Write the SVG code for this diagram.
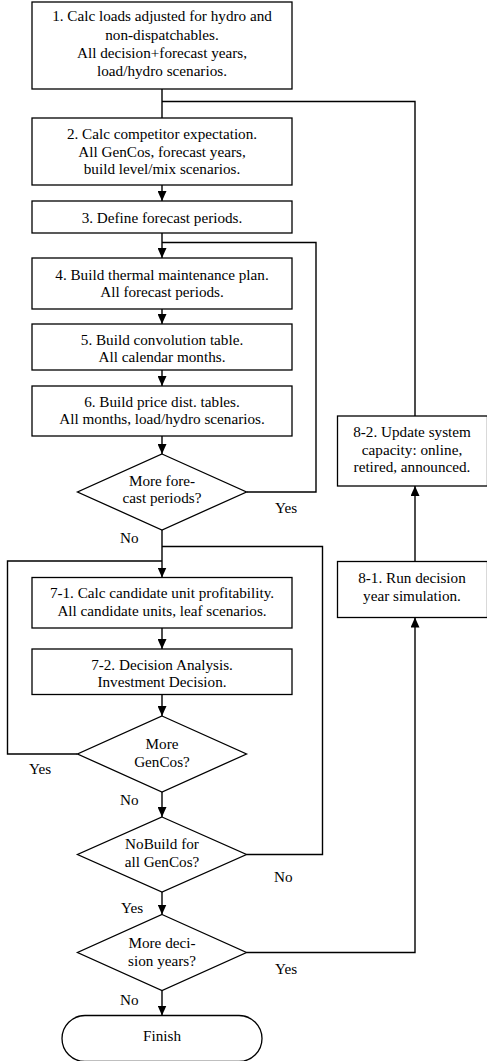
<svg xmlns="http://www.w3.org/2000/svg" width="487" height="1061" viewBox="0 0 487 1061">
<style>
.b{fill:#fff;stroke:#000;stroke-width:1.3}
.t{font-size:15.2px;fill:#000;text-anchor:middle}
.l{font-size:15.2px;fill:#000}
.c{fill:none;stroke:#000;stroke-width:1.4}
</style>
<defs>
<marker id="a" markerUnits="userSpaceOnUse" markerWidth="10" markerHeight="9" refX="10" refY="4.5" orient="auto">
<path d="M0,0 L10,4.5 L0,9 z" fill="#000"/>
</marker>
</defs>
<g font-family="Liberation Serif, Times New Roman, Times, serif">
<g id="connectors">
<path class="c" d="M162,89 V118"/>
<path class="c" d="M415,416 V101.5 H162"/>
<path class="c" d="M162,185 V201" marker-end="url(#a)"/>
<path class="c" d="M162,233 V258" marker-end="url(#a)"/>
<path class="c" d="M246.5,492 H316 V242.5 H162"/>
<path class="c" d="M162,309 V324" marker-end="url(#a)"/>
<path class="c" d="M162,370 V386" marker-end="url(#a)"/>
<path class="c" d="M162,436 V454" marker-end="url(#a)"/>
<path class="c" d="M162,530 V577.5" marker-end="url(#a)"/>
<path class="c" d="M246.5,854.5 H322.5 V546.5 H162"/>
<path class="c" d="M77.5,754 H7.5 V561 H162"/>
<path class="c" d="M162,628 V649" marker-end="url(#a)"/>
<path class="c" d="M162,694.5 V716" marker-end="url(#a)"/>
<path class="c" d="M162,792 V817" marker-end="url(#a)"/>
<path class="c" d="M162,892 V914.5" marker-end="url(#a)"/>
<path class="c" d="M162,990.5 V1015.5" marker-end="url(#a)"/>
<path class="c" d="M246.5,952.5 H415 V617.5" marker-end="url(#a)"/>
<path class="c" d="M415,561.5 V486" marker-end="url(#a)"/>
<text class="l" x="275" y="513">Yes</text>
<text class="l" x="120" y="543">No</text>
<text class="l" x="29" y="774">Yes</text>
<text class="l" x="120" y="805">No</text>
<text class="l" x="274" y="882">No</text>
<text class="l" x="121" y="913">Yes</text>
<text class="l" x="275" y="973.5">Yes</text>
<text class="l" x="120" y="1004.5">No</text>
</g>
<g id="n1"><rect class="b" x="32" y="2" width="260" height="87"/>
<text class="t" x="162" y="21">1. Calc loads adjusted for hydro and</text>
<text class="t" x="162" y="39.5">non-dispatchables.</text>
<text class="t" x="162" y="57.5">All decision+forecast years,</text>
<text class="t" x="162" y="76">load/hydro scenarios.</text></g>
<g id="n2"><rect class="b" x="32" y="118" width="260" height="67"/>
<text class="t" x="162" y="139">2. Calc competitor expectation.</text>
<text class="t" x="162" y="156.5">All GenCos, forecast years,</text>
<text class="t" x="162" y="174">build level/mix scenarios.</text></g>
<g id="n3"><rect class="b" x="32" y="201" width="260" height="32"/>
<text class="t" x="162" y="222.5">3. Define forecast periods.</text></g>
<g id="n4"><rect class="b" x="32" y="258" width="260" height="51"/>
<text class="t" x="162" y="280">4. Build thermal maintenance plan.</text>
<text class="t" x="162" y="297">All forecast periods.</text></g>
<g id="n5"><rect class="b" x="32" y="324" width="260" height="46"/>
<text class="t" x="162" y="345">5. Build convolution table.</text>
<text class="t" x="162" y="362">All calendar months.</text></g>
<g id="n6"><rect class="b" x="32" y="386" width="260" height="50"/>
<text class="t" x="162" y="407">6. Build price dist. tables.</text>
<text class="t" x="162" y="424">All months, load/hydro scenarios.</text></g>
<g id="d1"><path class="b" d="M162,454 L246.5,492 L162,530 L77.5,492 z"/>
<text class="t" x="162" y="486">More fore-</text>
<text class="t" x="162" y="503">cast periods?</text></g>
<g id="n71"><rect class="b" x="32" y="577.5" width="260" height="50.5"/>
<text class="t" x="162" y="598">7-1. Calc candidate unit profitability.</text>
<text class="t" x="162" y="615.5">All candidate units, leaf scenarios.</text></g>
<g id="n72"><rect class="b" x="32" y="649" width="260" height="45.5"/>
<text class="t" x="162" y="669.5">7-2. Decision Analysis.</text>
<text class="t" x="162" y="687">Investment Decision.</text></g>
<g id="d2"><path class="b" d="M162,716 L246.5,754 L162,792 L77.5,754 z"/>
<text class="t" x="162" y="749">More</text>
<text class="t" x="162" y="767">GenCos?</text></g>
<g id="d3"><path class="b" d="M162,817 L246.5,854.5 L162,892 L77.5,854.5 z"/>
<text class="t" x="162" y="849">NoBuild for</text>
<text class="t" x="162" y="867">all GenCos?</text></g>
<g id="d4"><path class="b" d="M162,914.5 L246.5,952.5 L162,990.5 L77.5,952.5 z"/>
<text class="t" x="162" y="948">More deci-</text>
<text class="t" x="162" y="966">sion years?</text></g>
<g id="finish"><rect class="b" x="62" y="1015.5" width="200" height="46" rx="23" ry="23"/>
<text class="t" x="162" y="1041">Finish</text></g>
<g id="n82"><rect class="b" x="337.5" y="416" width="150" height="70"/>
<text class="t" x="412" y="437">8-2. Update system</text>
<text class="t" x="412" y="454.5">capacity: online,</text>
<text class="t" x="412" y="472">retired, announced.</text></g>
<g id="n81"><rect class="b" x="337.5" y="561.5" width="150" height="56"/>
<text class="t" x="412" y="583">8-1. Run decision</text>
<text class="t" x="412" y="600.5">year simulation.</text></g>
</g>
</svg>
